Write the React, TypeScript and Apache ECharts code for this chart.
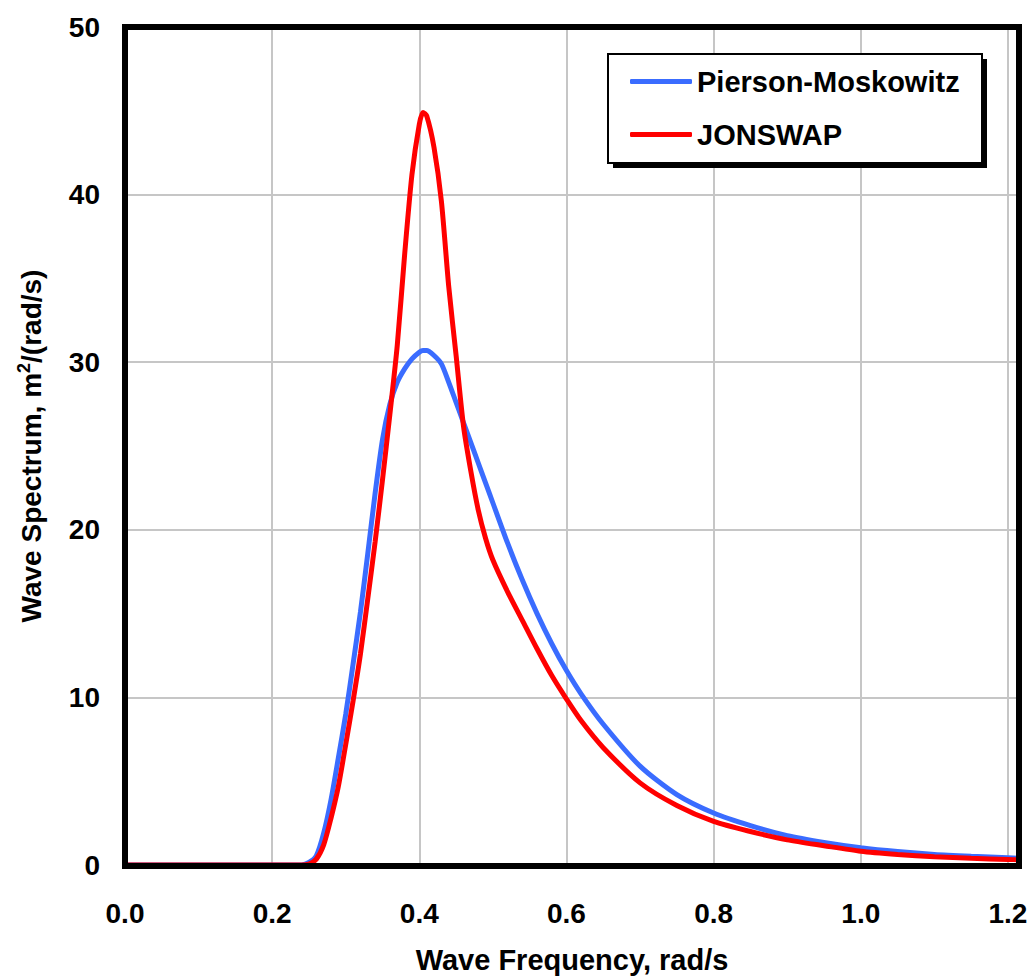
import React, { useEffect, useRef } from "react";
import * as echarts from "echarts";

const freq = [0, 0.1, 0.2, 0.24, 0.25, 0.26, 0.27, 0.28, 0.29, 0.30, 0.31, 0.32, 0.33, 0.34, 0.35, 0.36, 0.37, 0.38, 0.39, 0.40, 0.405, 0.41, 0.42, 0.43, 0.44, 0.45, 0.46, 0.47, 0.48, 0.49, 0.50, 0.52, 0.54, 0.56, 0.58, 0.60, 0.62, 0.65, 0.70, 0.75, 0.80, 0.85, 0.90, 0.95, 1.00, 1.05, 1.10, 1.15, 1.20, 1.215];

const pmSpectrum = [0, 0, 0, 0, 0.15, 0.55, 1.9, 3.9, 6.4, 9.0, 12.0, 15.1, 18.6, 22.2, 25.4, 27.5, 28.8, 29.6, 30.2, 30.6, 30.7, 30.7, 30.4, 29.9, 28.8, 27.6, 26.4, 25.2, 24.0, 22.8, 21.6, 19.2, 17.0, 15.0, 13.2, 11.6, 10.2, 8.4, 5.9, 4.2, 3.1, 2.35, 1.75, 1.35, 1.03, 0.8, 0.63, 0.52, 0.43, 0.40];

const jonswapSpectrum = [0, 0, 0, 0, 0.05, 0.35, 1.2, 2.8, 4.7, 7.2, 9.8, 12.6, 15.9, 19.3, 23.0, 26.9, 31.0, 36.4, 41.2, 44.2, 44.9, 44.7, 42.8, 39.6, 34.5, 30.4, 26.2, 23.5, 21.2, 19.5, 18.2, 16.3, 14.6, 12.9, 11.3, 9.9, 8.6, 7.0, 4.9, 3.55, 2.6, 2.0, 1.5, 1.15, 0.82, 0.63, 0.49, 0.4, 0.33, 0.31];

const seriesNames = ["Pierson-Moskowitz", "JONSWAP"];
const xTitle = "Wave Frequency, rad/s";

const FONT = "Liberation Sans, Arial, sans-serif";

export default function App() {
  const ref = useRef<HTMLDivElement>(null);
  useEffect(() => {
    if (!ref.current) return;
    const chart = echarts.init(ref.current, undefined, { renderer: "svg" });
    const pm = freq.map((f, i) => [f, pmSpectrum[i]]);
    const js = freq.map((f, i) => [f, jonswapSpectrum[i]]);
    chart.setOption({
      animation: false,
      backgroundColor: "#fff",
      grid: {
        left: 125,
        right: 12,
        top: 27,
        bottom: 113,
        show: false,
      },
      graphic: [
        {
          type: "rect",
          z: 30,
          silent: true,
          shape: { x: 125, y: 27, width: 894, height: 839 },
          style: { fill: "none", stroke: "#000", lineWidth: 6 },
        },
        {
          type: "rect",
          z: 10,
          shape: { x: 613, y: 59, width: 374, height: 109 },
          style: { fill: "#000" },
        },
        {
          type: "rect",
          z: 11,
          shape: { x: 608, y: 54, width: 374, height: 109 },
          style: { fill: "#fff", stroke: "#000", lineWidth: 2 },
        },
      ],
      legend: {
        z: 20,
        orient: "vertical",
        left: 630,
        top: 67,
        padding: 0,
        itemWidth: 62,
        itemHeight: 5,
        itemGap: 24,
        icon: "roundRect",
        data: seriesNames,
        textStyle: {
          fontFamily: FONT,
          fontWeight: "bold",
          fontSize: 29,
          color: "#000",
        },
      },
      xAxis: {
        type: "value",
        min: 0,
        max: 1.215,
        interval: 0.2,
        name: xTitle,
        nameLocation: "middle",
        nameGap: 80,
        nameTextStyle: {
          fontFamily: FONT,
          fontWeight: "bold",
          fontSize: 29,
          color: "#000",
        },
        axisLine: { show: false },
        axisTick: { show: false },
        axisLabel: {
          margin: 34,
          showMaxLabel: false,
          fontFamily: FONT,
          fontWeight: "bold",
          fontSize: 28,
          color: "#000",
          formatter: (v: number) => (Math.abs(v - 1.215) < 1e-6 ? "" : v.toFixed(1)),
        },
        splitLine: { show: true, lineStyle: { color: "#c6c6c6", width: 2 } },
      },
      yAxis: {
        type: "value",
        min: 0,
        max: 50,
        interval: 10,
        name: "{a|Wave Spectrum, m}{s|2}{a|/(rad/s)}",
        nameLocation: "middle",
        nameGap: 78,
        nameTextStyle: {
          fontFamily: FONT,
          fontWeight: "bold",
          fontSize: 28,
          color: "#000",
          rich: {
            a: { fontFamily: FONT, fontWeight: "bold", fontSize: 28, color: "#000" },
            s: {
              fontFamily: FONT,
              fontWeight: "bold",
              fontSize: 18,
              color: "#000",
              verticalAlign: "top",
              padding: [0, 0, 14, 0],
            },
          },
        },
        axisLine: { show: false },
        axisTick: { show: false },
        axisLabel: {
          margin: 25,
          fontFamily: FONT,
          fontWeight: "bold",
          fontSize: 28,
          color: "#000",
        },
        splitLine: { show: true, lineStyle: { color: "#c6c6c6", width: 2 } },
      },
      series: [
        {
          name: seriesNames[0],
          type: "line",
          data: pm,
          showSymbol: false,
          symbol: "none",
          smooth: 0.25,
          lineStyle: { color: "#3a6cff", width: 5 },
          itemStyle: { color: "#3a6cff" },
        },
        {
          name: seriesNames[1],
          type: "line",
          data: js,
          showSymbol: false,
          symbol: "none",
          smooth: 0.25,
          lineStyle: { color: "#ff0000", width: 5 },
          itemStyle: { color: "#ff0000" },
        },
      ],
    });
    return () => chart.dispose();
  }, []);
  return (
    <div
      ref={ref}
      style={{ position: "fixed", left: 0, top: 0, width: 1031, height: 979 }}
    />
  );
}
